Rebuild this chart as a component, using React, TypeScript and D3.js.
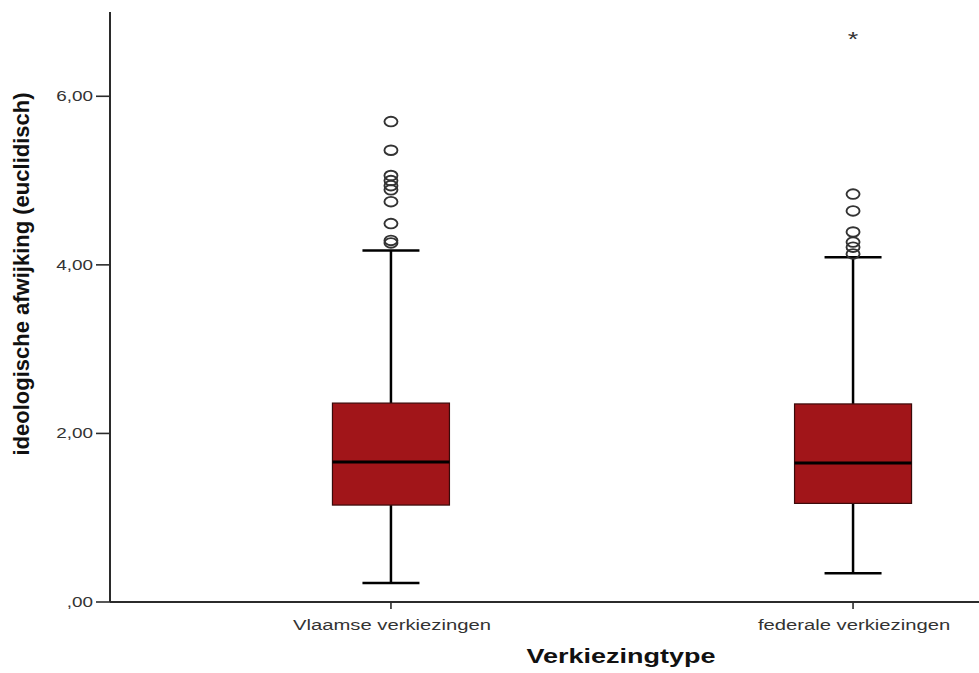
import React from "react";
import * as d3 from "d3";

const categories = ["Vlaamse verkiezingen", "federale verkiezingen"];
const q1 = [1.15, 1.17];
const medians = [1.66, 1.65];
const q3 = [2.36, 2.35];
const whiskerLow = [0.225, 0.34];
const whiskerHigh = [4.17, 4.09];
const outliersVlaams = [5.7, 5.36, 5.06, 5.0, 4.94, 4.89, 4.75, 4.49, 4.29, 4.26];
const outliersFederaal = [4.84, 4.64, 4.39, 4.27, 4.21, 4.13];
const extremesVlaams: number[] = [];
const extremesFederaal = [6.7];
const yTicks = [0, 2, 4, 6];
const yTickLabels = [",00", "2,00", "4,00", "6,00"];
const xTitle = "Verkiezingtype";
const yTitle = "ideologische afwijking (euclidisch)";

const W = 979;
const H = 673;
const SX = 1.35;
const FONT = "'Liberation Sans', Arial, sans-serif";

export default function App() {
  const y = d3.scaleLinear().domain([0, 7]).range([602, 12]);
  const x = d3.scalePoint<string>().domain(categories).range([110, 1134]).padding(0.608);
  const boxW = 117;
  const capW = 57;
  const outliers = [outliersVlaams, outliersFederaal];
  const extremes = [extremesVlaams, extremesFederaal];
  const axisColor = "#2b2b2b";
  const textColor = "#333";

  return (
    <svg
      width={W}
      height={H}
      style={{ position: "absolute", left: 0, top: 0, display: "block", background: "#fff" }}
    >
      <rect x={0} y={0} width={W} height={H} fill="#fff" />
      {/* y axis */}
      <line x1={110} x2={110} y1={y(7)} y2={y(0)} stroke={axisColor} strokeWidth={2} />
      {yTicks.map((t, i) => (
        <g key={t}>
          <line x1={96} x2={110} y1={y(t)} y2={y(t)} stroke={axisColor} strokeWidth={1.6} />
          <text
            transform={`translate(93,${y(t) + 5}) scale(${SX},1)`}
            textAnchor="end"
            fontFamily={FONT}
            fontSize={14}
            fill={textColor}
          >
            {yTickLabels[i]}
          </text>
        </g>
      ))}
      {/* x axis */}
      <line x1={110} x2={W} y1={y(0)} y2={y(0)} stroke={axisColor} strokeWidth={2} />
      {categories.map((c) => (
        <g key={c}>
          <line x1={x(c)} x2={x(c)} y1={y(0)} y2={y(0) + 7} stroke={axisColor} strokeWidth={1.6} />
          <text
            transform={`translate(${x(c)! + 1},630) scale(${SX},1)`}
            textAnchor="middle"
            fontFamily={FONT}
            fontSize={15}
            fill={textColor}
          >
            {c}
          </text>
        </g>
      ))}
      {/* boxes */}
      {categories.map((c, i) => {
        const cx = x(c)!;
        return (
          <g key={"box" + c}>
            <line x1={cx} x2={cx} y1={y(whiskerHigh[i])} y2={y(q3[i])} stroke="#000" strokeWidth={2.5} />
            <line x1={cx} x2={cx} y1={y(q1[i])} y2={y(whiskerLow[i])} stroke="#000" strokeWidth={2.5} />
            <line x1={cx - capW / 2} x2={cx + capW / 2} y1={y(whiskerHigh[i])} y2={y(whiskerHigh[i])} stroke="#000" strokeWidth={2.5} />
            <line x1={cx - capW / 2} x2={cx + capW / 2} y1={y(whiskerLow[i])} y2={y(whiskerLow[i])} stroke="#000" strokeWidth={2.5} />
            <rect
              x={cx - boxW / 2}
              y={y(q3[i])}
              width={boxW}
              height={y(q1[i]) - y(q3[i])}
              fill="#a11519"
              stroke="#3a0a0a"
              strokeWidth={1.2}
            />
            <line x1={cx - boxW / 2} x2={cx + boxW / 2} y1={y(medians[i])} y2={y(medians[i])} stroke="#000" strokeWidth={3} />
            {outliers[i].map((v, k) => (
              <ellipse key={k} cx={cx} cy={y(v)} rx={6.5} ry={4.8} fill="none" stroke="#333" strokeWidth={1.9} />
            ))}
            {extremes[i].map((v, k) => (
              <text
                key={"e" + k}
                transform={`translate(${cx},${y(v) + 9}) scale(${SX},1)`}
                textAnchor="middle"
                fontFamily={FONT}
                fontSize={20}
                fill="#333"
              >
                *
              </text>
            ))}
          </g>
        );
      })}
      {/* titles */}
      <text
        transform={`translate(621,663) scale(${SX},1)`}
        textAnchor="middle"
        fontFamily={FONT}
        fontWeight="bold"
        fontSize={20}
        fill="#111"
      >
        {xTitle}
      </text>
      <text
        transform="translate(29,274) rotate(-90)"
        textAnchor="middle"
        fontFamily={FONT}
        fontWeight="bold"
        fontSize={22}
        fill="#111"
      >
        {yTitle}
      </text>
    </svg>
  );
}
